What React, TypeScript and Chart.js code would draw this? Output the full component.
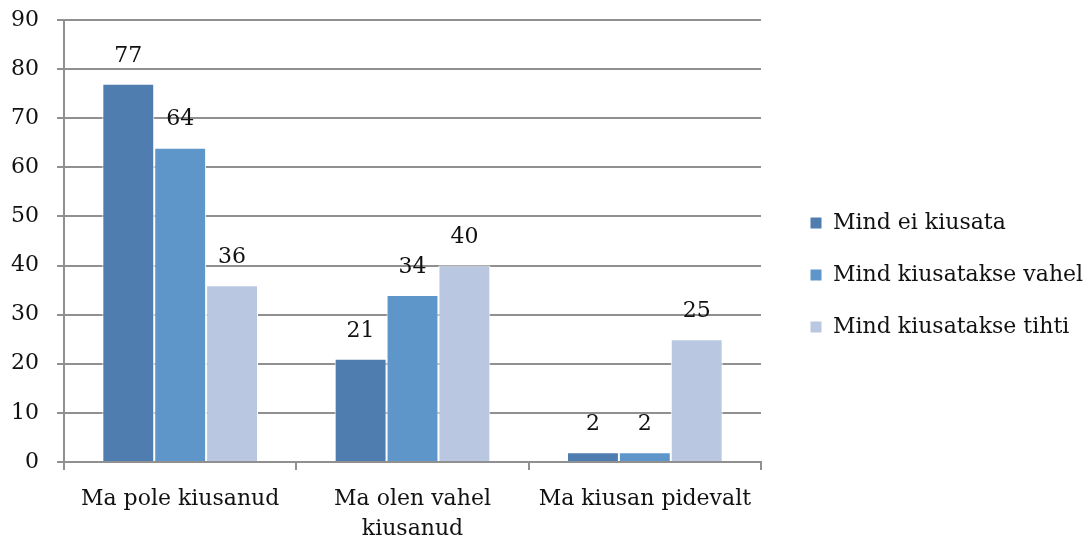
import React, { useEffect, useRef } from "react";
import { Chart, registerables } from "chart.js";

Chart.register(...registerables);

const categories: (string | string[])[] = [
  "Ma pole kiusanud",
  ["Ma olen vahel", "kiusanud"],
  "Ma kiusan pidevalt",
];
const seriesNames = ["Mind ei kiusata", "Mind kiusatakse vahel", "Mind kiusatakse tihti"];
const notBullied = [77, 21, 2];
const sometimesBullied = [64, 34, 2];
const oftenBullied = [36, 40, 25];
const seriesColors = ["#4f7daf", "#5f96c9", "#b9c7e1"];
const yTicksMax = 90;
const yTicksStep = 10;

const FONT = "'DejaVu Serif', serif";
const GRID = "#909090";

const valueLabels = {
  id: "valueLabels",
  afterDatasetsDraw(chart: any) {
    const ctx = chart.ctx;
    ctx.save();
    ctx.font = `22px ${FONT}`;
    ctx.fillStyle = "#111";
    ctx.textAlign = "center";
    ctx.textBaseline = "middle";
    chart.data.datasets.forEach((ds: any, di: number) => {
      const meta = chart.getDatasetMeta(di);
      meta.data.forEach((el: any, i: number) => {
        ctx.fillText(String(ds.data[i]), el.x, el.y - 28);
      });
    });
    ctx.restore();
  },
};

export default function App() {
  const ref = useRef<HTMLCanvasElement>(null);
  useEffect(() => {
    if (!ref.current) return;
    Chart.defaults.font.family = FONT;
    Chart.defaults.font.size = 22;
    Chart.defaults.color = "#111";
    const data = [notBullied, sometimesBullied, oftenBullied];
    const chart = new Chart(ref.current, {
      type: "bar",
      data: {
        labels: categories,
        datasets: seriesNames.map((name, i) => ({
          label: name,
          data: data[i],
          backgroundColor: seriesColors[i],
          borderColor: "#ffffff",
          borderWidth: 1,
          categoryPercentage: 0.67,
          barPercentage: 1,
          xAxisID: "x",
          yAxisID: "y",
        })),
      },
      options: {
        animation: false,
        responsive: true,
        maintainAspectRatio: false,
        layout: { padding: { top: 10, left: 0, right: 0, bottom: 0 } },
        plugins: {
          tooltip: { enabled: false },
          legend: {
            position: "right",
            align: "center",
            maxWidth: 308,
            labels: {
              boxWidth: 12,
              boxHeight: 12,
              padding: 30,
              font: { size: 22, family: FONT },
              color: "#111",
            },
          },
        },
        scales: {
          x: {
            type: "category",
            position: "bottom",
            grid: {
              display: true,
              offset: true,
              drawOnChartArea: false,
              drawTicks: true,
              tickLength: 8,
              color: GRID,
              lineWidth: 2,
            },
            border: { display: true, color: GRID, width: 2 },
            ticks: {
              padding: 14,
              maxRotation: 0,
              autoSkip: false,
              font: { size: 22, family: FONT, lineHeight: 1.364 },
              color: "#111",
            },
            afterFit: (s: any) => {
              s.height = 78;
            },
          },
          y: {
            type: "linear",
            position: "left",
            min: 0,
            max: yTicksMax,
            ticks: {
              stepSize: yTicksStep,
              padding: 18,
              font: { size: 22, family: FONT },
              color: "#111",
            },
            grid: {
              color: GRID,
              lineWidth: 2,
              tickLength: 7,
              drawTicks: true,
            },
            border: { display: true, color: GRID, width: 2 },
            afterFit: (s: any) => {
              s.width = 64;
              s.paddingTop = 20;
              s.paddingBottom = 0;
            },
          },
          gap: {
            type: "linear",
            position: "right",
            display: true,
            grid: { display: false, drawTicks: false },
            border: { display: false },
            ticks: { display: false },
            afterFit: (s: any) => {
              s.width = 19;
              s.paddingTop = 0;
              s.paddingBottom = 0;
            },
          },
        },
      },
      plugins: [valueLabels],
    } as any);
    return () => chart.destroy();
  }, []);
  return (
    <div style={{ position: "fixed", left: 0, top: 0, width: 1088, height: 540, background: "#fff" }}>
      <canvas ref={ref} />
    </div>
  );
}
